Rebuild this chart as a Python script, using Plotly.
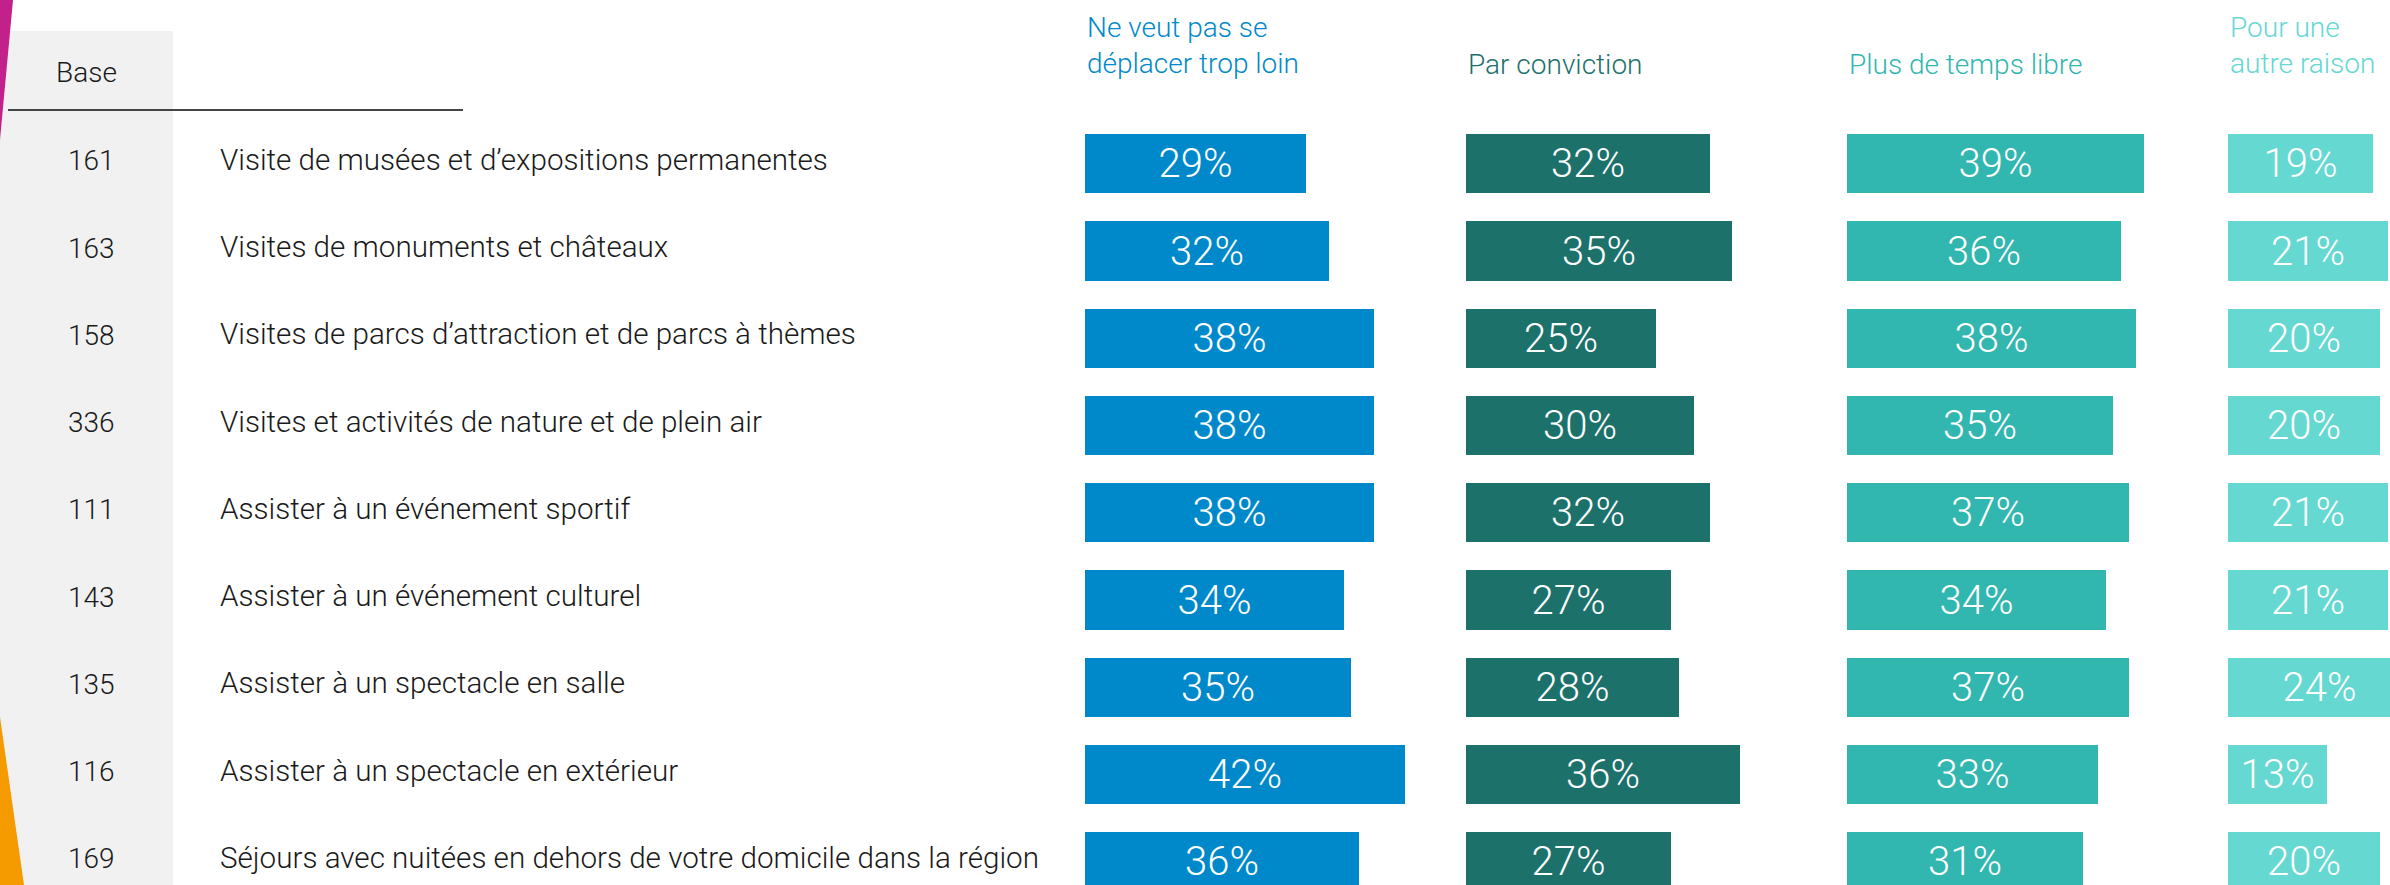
import plotly.graph_objects as go

W, H = 2390, 885

activities = [
    "Visite de musées et d’expositions permanentes",
    "Visites de monuments et châteaux",
    "Visites de parcs d’attraction et de parcs à thèmes",
    "Visites et activités de nature et de plein air",
    "Assister à un événement sportif",
    "Assister à un événement culturel",
    "Assister à un spectacle en salle",
    "Assister à un spectacle en extérieur",
    "Séjours avec nuitées en dehors de votre domicile dans la région",
]
base = [161, 163, 158, 336, 111, 143, 135, 116, 169]

series_names = [
    "Ne veut pas se<br>déplacer trop loin",
    "Par conviction",
    "Plus de temps libre",
    "Pour une<br>autre raison",
]
trop_loin = [29, 32, 38, 38, 38, 34, 35, 42, 36]
conviction = [32, 35, 25, 30, 32, 27, 28, 36, 27]
temps_libre = [39, 36, 38, 35, 37, 34, 37, 33, 31]
autre_raison = [19, 21, 20, 20, 21, 21, 24, 13, 20]

colors = ["#0089CA", "#1D716B", "#32B6B0", "#65D8D2"]
FONT = "Roboto"


def px(x):
    return x / W


def py(y):
    return 1 - y / H


# column left edges (pixels) and scale (pixels per %)
col_left = [1085, 1466, 1847, 2228]
col_right = [1466, 1847, 2228, W]
per_pct = 7.61

# rows: first row centre and row step (pixels)
row0, step = 163.8, 87.25

fig = go.Figure()
all_series = [trop_loin, conviction, temps_libre, autre_raison]
for i, vals in enumerate(all_series):
    ax = "x" if i == 0 else f"x{i + 1}"
    fig.add_trace(go.Bar(
        x=vals, y=activities, orientation="h",
        xaxis=ax, yaxis="y",
        marker=dict(color=colors[i], line=dict(width=0)),
        width=0.68,
        text=[f"{v}%" for v in vals],
        textposition="inside", insidetextanchor="middle",
        textangle=0, constraintext="none",
        textfont=dict(color="white", size=40, family=FONT, weight=300),
        showlegend=False, hoverinfo="skip",
    ))

layout_axes = {}
for i in range(4):
    key = "xaxis" if i == 0 else f"xaxis{i + 1}"
    layout_axes[key] = dict(
        domain=[px(col_left[i]), px(col_right[i])],
        range=[0, (col_right[i] - col_left[i]) / per_pct],
        visible=False, anchor="y", fixedrange=True,
    )

fig.update_layout(
    width=W, height=H,
    margin=dict(l=0, r=0, t=0, b=0),
    paper_bgcolor="white", plot_bgcolor="rgba(0,0,0,0)",
    yaxis=dict(type="category", categoryarray=activities,
               range=[(H - row0) / step, -row0 / step],
               domain=[0, 1], visible=False),
    bargap=0,
    **layout_axes,
)

# left panel decorations
fig.add_shape(type="path", xref="paper", yref="paper", layer="below",
              path=f"M {px(10)} {py(31)} L {px(173)} {py(31)} L {px(173)} {py(H)} "
                   f"L 0 {py(H)} L 0 {py(140)} Z",
              fillcolor="#F1F1F1", line=dict(width=0))
fig.add_shape(type="path", xref="paper", yref="paper",
              path=f"M 0 {py(0)} L {px(13)} {py(0)} L 0 {py(140)} Z",
              fillcolor="#C2208A", line=dict(width=0))
fig.add_shape(type="path", xref="paper", yref="paper",
              path=f"M 0 {py(717)} L {px(24)} {py(H)} L 0 {py(H)} Z",
              fillcolor="#F59B00", line=dict(width=0))
fig.add_shape(type="line", xref="paper", yref="paper",
              x0=px(8), x1=px(463), y0=py(110), y1=py(110),
              line=dict(color="#444444", width=2))

fig.add_annotation(x=px(86), y=py(72), xref="paper", yref="paper",
                   text="Base", showarrow=False, xanchor="center", yanchor="middle",
                   font=dict(size=28, family=FONT, color="#1a1a1a", weight=300))

for act, b in zip(activities, base):
    fig.add_annotation(x=px(91), y=act, xref="paper", yref="y", yshift=3,
                       text=str(b), showarrow=False, xanchor="center", yanchor="middle",
                       font=dict(size=28, family=FONT, color="#1a1a1a", weight=300))
    fig.add_annotation(x=px(218), y=act, xref="paper", yref="y", yshift=4,
                       text=act, showarrow=False, xanchor="left", yanchor="middle",
                       font=dict(size=29.6, family=FONT, color="#1a1a1a", weight=300))

for i, name in enumerate(series_names):
    two_lines = "<br>" in name
    fig.add_annotation(x=px(col_left[i]), y=py(45.5 if two_lines else 64),
                       xref="paper", yref="paper", text=name, showarrow=False,
                       xanchor="left", yanchor="middle", align="left",
                       font=dict(size=28, family=FONT, color=colors[i], weight=300))

fig.write_html("out.html", config={"displayModeBar": False},
               post_script="document.body.style.margin='0';")
